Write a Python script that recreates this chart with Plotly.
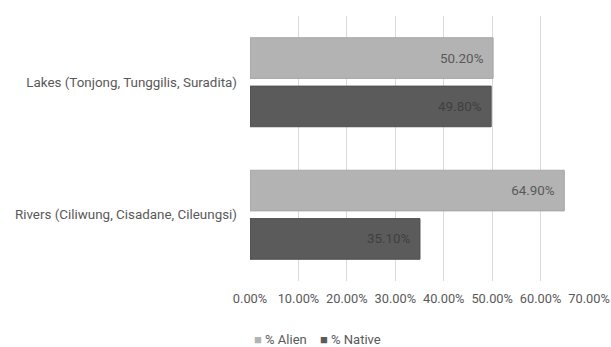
import plotly.graph_objects as go

categories = ["Lakes (Tonjong, Tunggilis, Suradita)", "Rivers (Ciliwung, Cisadane, Cileungsi)"]
alien_pct = [50.20, 64.90]
native_pct = [49.80, 35.10]
tick_vals = [0, 10, 20, 30, 40, 50, 60, 70]
tick_text = ["0.00%", "10.00%", "20.00%", "30.00%", "40.00%", "50.00%", "60.00%", "70.00%"]
series_names = ["% Alien", "% Native"]
series_colors = ["#b3b3b3", "#5b5b5b"]

FONT = "Roboto, Arial, sans-serif"
FS = 13.4
PAD = "\u00a0\u00a0"

fig = go.Figure()
fig.add_trace(go.Bar(
    name=series_names[0], y=categories, x=alien_pct, orientation="h",
    marker=dict(color=series_colors[0], line=dict(color="#a6a6a6", width=1)),
    text=[f"{v:.2f}%{PAD}" for v in alien_pct], textposition="inside",
    insidetextanchor="end", textfont=dict(color="#595959", size=FS, family=FONT),
    hoverinfo="skip",
))
fig.add_trace(go.Bar(
    name=series_names[1], y=categories, x=native_pct, orientation="h",
    marker=dict(color=series_colors[1], line=dict(color="#4f4f4f", width=1)),
    text=[f"{v:.2f}%{PAD}" for v in native_pct], textposition="inside",
    insidetextanchor="end", textfont=dict(color="#404040", size=FS, family=FONT),
    hoverinfo="skip",
))

# compact legend row beneath the axis
legend_html = "\u2003".join(
    f"<span style='color:{c}'>\u25a0</span> {n}" for n, c in zip(series_names, series_colors)
)
fig.add_annotation(
    text=legend_html, xref="paper", yref="paper", x=0.2, xanchor="center",
    y=-0.22, yanchor="middle", showarrow=False,
    font=dict(size=13, color="#595959", family=FONT),
)

fig.update_layout(
    width=611, height=347,
    margin=dict(l=250, r=22, t=16, b=66),
    paper_bgcolor="white", plot_bgcolor="white",
    barmode="group", bargap=0.27, bargroupgap=0.16,
    font=dict(family=FONT, size=FS, color="#595959"),
    showlegend=False,
    uniformtext=dict(mode="show", minsize=FS),
)
fig.update_xaxes(range=[0, 70], tickvals=tick_vals, ticktext=tick_text,
                 showgrid=True, gridcolor="#d9d9d9", gridwidth=1,
                 zeroline=False, showline=False, ticks="", automargin=False,
                 ticklabelstandoff=8, ticklabeloverflow="allow",
                 tickfont=dict(size=12.8, color="#595959"))
fig.update_yaxes(autorange="reversed", showgrid=False, showline=False, ticks="",
                 automargin=False, ticklabelstandoff=12,
                 tickfont=dict(size=FS, color="#595959"))

fig.write_html("out.html")
